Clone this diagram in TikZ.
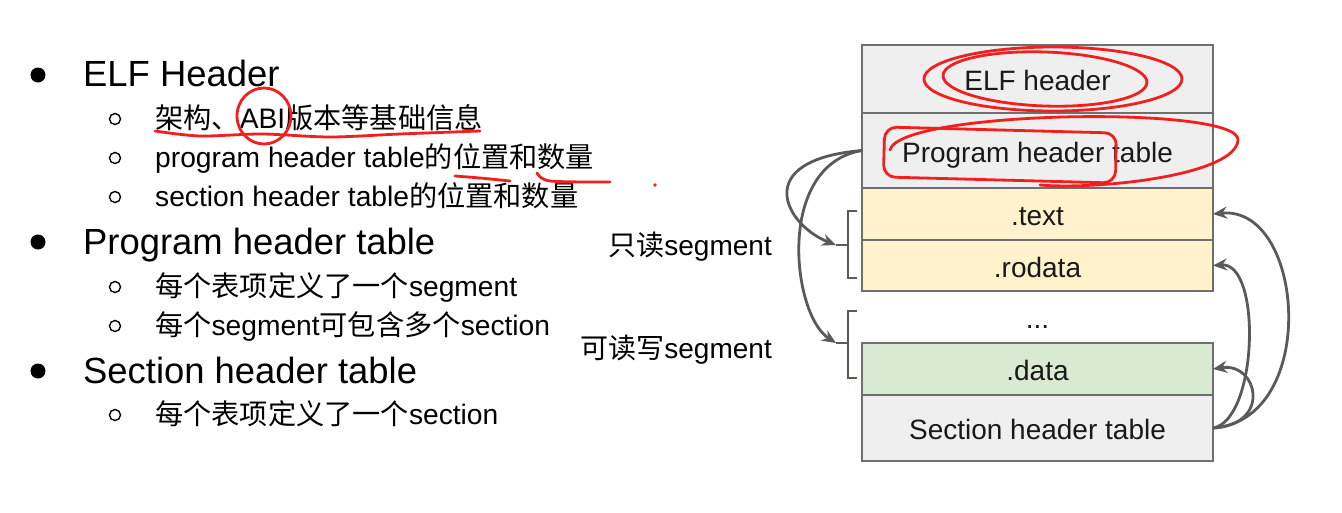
\documentclass[tikz,border=0pt]{standalone}
\usepackage{fontspec}
\setmainfont{Liberation Sans}
\newfontfamily\cjk{Noto Sans CJK SC}
\usepackage{xcolor}
\usepackage{tikz}
\usetikzlibrary{positioning, arrows.meta}

\definecolor{hdrgray}{HTML}{EFEFEF}
\definecolor{royellow}{HTML}{FFF2CC}
\definecolor{rwgreen}{HTML}{D9EAD3}
\definecolor{edgegray}{HTML}{6F6F6F}
\definecolor{linkgray}{HTML}{5A5A5A}
\definecolor{penred}{HTML}{F21F1F}
\newcommand{\zh}[1]{{\cjk #1}}

\tikzset{
  bigtxt/.style={font=\fontsize{36.4}{40}\selectfont, anchor=base west, inner sep=0pt},
  subtxt/.style={font=\fontsize{28.2}{32}\selectfont, anchor=base west, inner sep=0pt},
  seglabel/.style={font=\fontsize{28}{32}\selectfont, anchor=base east, inner sep=0pt},
  cell/.style={draw=edgegray, line width=1.4pt, outer sep=0pt, minimum width=351pt,
    font=\fontsize{28}{32}\selectfont, text=black!90, text height=25pt, text depth=2pt},
  link/.style={draw=linkgray, line width=2.8pt, -{Stealth[length=14pt, width=12pt]}},
  brace/.style={draw=linkgray, line width=2.4pt},
  hand/.style={draw=penred, line width=2.8pt, line cap=round, line join=round}
}

\begin{document}
\begin{tikzpicture}[x=1pt, y=-1pt]
  \useasboundingbox[fill=white] (0,0) rectangle (1342,512);

  % bullet list
  \foreach \by in {75, 242, 371}
    \fill (38,\by) circle (7.5pt);
  \foreach \cy in {119, 158, 197, 287, 326, 415}
    \draw[line width=1.4pt] (115,\cy) circle (5.5pt);

  \node[bigtxt] (elfitem) at (83,86) {ELF Header};
  \node[subtxt] (arch) at (155,128) {\zh{架构、}ABI\zh{版本等基础信息}};
  \node[subtxt] (phpos) at (155,167) {program header table\zh{的位置和数量}};
  \node[subtxt] (shpos) at (155,206) {section header table\zh{的位置和数量}};
  \node[bigtxt] (phitem) at (83,254) {Program header table};
  \node[subtxt] (phent) at (155,296) {\zh{每个表项定义了一个}segment};
  \node[subtxt] (phsec) at (155,335) {\zh{每个}segment\zh{可包含多个}section};
  \node[bigtxt] (shitem) at (83,383) {Section header table};
  \node[subtxt] (shent) at (155,424) {\zh{每个表项定义了一个}section};

  % file layout
  \node[cell, fill=hdrgray, minimum height=68pt] (elf) at (1037.5,79) {ELF header};
  \node[cell, fill=hdrgray, minimum height=75pt, below=0pt of elf] (pht) {Program header table};
  \node[cell, fill=royellow, minimum height=52pt, below=0pt of pht] (text) {.text};
  \node[cell, fill=royellow, minimum height=51pt, below=0pt of text] (rodata) {.rodata};
  \node[cell, draw=none, minimum height=52pt, below=0pt of rodata] (dots) {...};
  \node[cell, fill=rwgreen, minimum height=52pt, below=0pt of dots] (data) {.data};
  \node[cell, fill=hdrgray, minimum height=66pt, below=0pt of data] (sht) {Section header table};

  % segments
  \coordinate (ro) at (836,245);
  \coordinate (rw) at (836,343);
  \draw[brace] (857,211) -- (848,211) -- (848,278) -- (857,278);
  \draw[brace] (848,245) -- (ro);
  \draw[brace] (857,311) -- (848,311) -- (848,378) -- (857,378);
  \draw[brace] (848,343) -- (rw);
  \node[seglabel] (rolabel) at (772,255) {\zh{只读}segment};
  \node[seglabel] (rwlabel) at (772,358) {\zh{可读写}segment};

  \draw[link] (pht.west) .. controls (750,160) and (785,225) .. (ro);
  \draw[link] (pht.west) .. controls (775,165) and (792,315) .. (rw);
  \draw[link] (sht.east) .. controls (1320,420) and (1305,205) .. (text.east);
  \draw[link] (sht.east) .. controls (1258,420) and (1262,262) .. (rodata.east);
  \draw[link] (sht.east) .. controls (1272,425) and (1258,362) .. (data.east);

  % hand-drawn marks
  \draw[hand] (1053,79) ellipse [x radius=129, y radius=32];
  \draw[hand, rotate around={-2:(1045,79)}] (1045,79) ellipse [x radius=102, y radius=27];
  \draw[hand, rounded corners=12pt, rotate around={-1.5:(1000,155)}] (884,130) rectangle (1116,180);
  \draw[hand] (890,150) .. controls (900,110) and (1240,105) .. (1238,140)
    .. controls (1236,175) and (1100,190) .. (1040,185);
  \draw[hand] (264,116) ellipse [x radius=27, y radius=28];
  \draw[hand] plot[smooth] coordinates {(155,131) (200,136) (262,134) (330,137) (400,134) (480,131)};
  \draw[hand] plot[smooth] coordinates {(455,176) (480,178) (510,181)};
  \draw[hand] plot[smooth] coordinates {(537,173) (550,181) (610,182)};
  \fill[penred] (655,185) circle (1.8pt);
\end{tikzpicture}
\end{document}
